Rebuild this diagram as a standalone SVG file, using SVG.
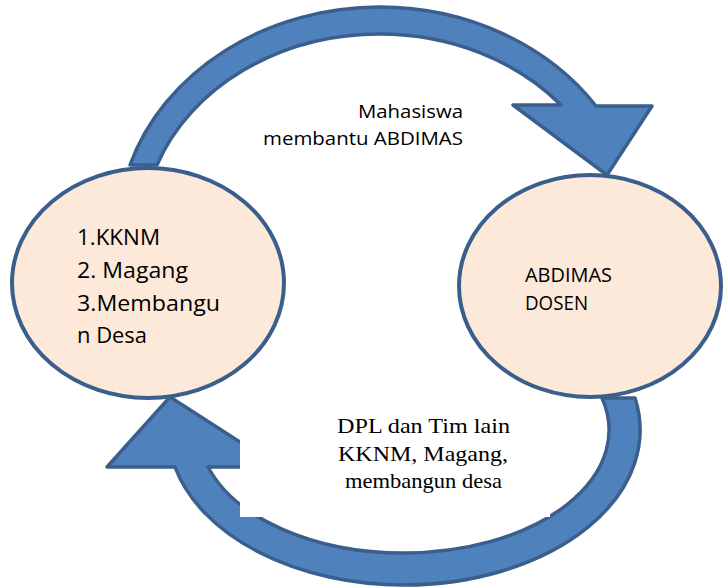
<svg xmlns="http://www.w3.org/2000/svg" width="723" height="588" viewBox="0 0 723 588">
  <style>
    .arrow { fill: #4f81bd; stroke: #3a5f8c; stroke-width: 3.5; stroke-linejoin: round; }
    .node { fill: #fde9d9; stroke: #3a5f8c; stroke-width: 4; }
    .sans { font-family: "Open Sans", "Liberation Sans", sans-serif; fill: #000; }
    .serif { font-family: "Liberation Serif", "Times New Roman", serif; fill: #000; font-size: 21px; }
  </style>
  <rect width="723" height="588" fill="#ffffff"/>

  <!-- curved block arrows -->
  <g id="connectors">
    <path id="arrow-top" class="arrow"
      d="M 130,165 A 262 227 0 0 1 380,7 A 262 227 0 0 1 596,106 L 652,106 L 607,175 L 513,105 L 561,105 A 237 200 0 0 0 380,34 A 237 200 0 0 0 157,165 Z"/>
    <path id="arrow-bottom" class="arrow"
      d="M 635,398 A 236 155 0 0 1 404,585 A 236 155 0 0 1 175,467 L 107,467 L 170,397 L 279,467 L 208,467 A 205 123 0 0 0 404,553 A 205 123 0 0 0 602,398 Z"/>
  </g>

  <!-- label box for the lower arrow -->
  <rect x="240" y="405" width="310" height="112" fill="#ffffff"/>

  <g id="node-kegiatan">
    <ellipse class="node" cx="148" cy="283" rx="136" ry="115"/>
    <text class="sans" font-size="21">
      <tspan x="77" y="245" textLength="83" lengthAdjust="spacingAndGlyphs">1.KKNM</tspan>
      <tspan x="77" y="278" textLength="111" lengthAdjust="spacingAndGlyphs">2. Magang</tspan>
      <tspan x="77" y="311" textLength="143" lengthAdjust="spacingAndGlyphs">3.Membangu</tspan>
      <tspan x="77" y="343" textLength="70" lengthAdjust="spacingAndGlyphs">n Desa</tspan>
    </text>
  </g>

  <g id="node-abdimas">
    <ellipse class="node" cx="590" cy="286" rx="131" ry="111"/>
    <text class="sans" font-size="20">
      <tspan x="525" y="282" textLength="87" lengthAdjust="spacingAndGlyphs">ABDIMAS</tspan>
      <tspan x="525" y="310" textLength="63" lengthAdjust="spacingAndGlyphs">DOSEN</tspan>
    </text>
  </g>

  <g id="label-top">
    <text class="sans" font-size="18">
      <tspan x="358" y="118" textLength="105" lengthAdjust="spacingAndGlyphs">Mahasiswa</tspan>
      <tspan x="263" y="145" textLength="200" lengthAdjust="spacingAndGlyphs">membantu ABDIMAS</tspan>
    </text>
  </g>

  <g id="label-bottom">
    <text class="serif">
      <tspan x="337" y="433" textLength="173" lengthAdjust="spacingAndGlyphs">DPL dan Tim lain</tspan>
      <tspan x="338" y="461" textLength="170" lengthAdjust="spacingAndGlyphs">KKNM, Magang,</tspan>
      <tspan x="345" y="488" textLength="157" lengthAdjust="spacingAndGlyphs">membangun desa</tspan>
    </text>
  </g>
</svg>
